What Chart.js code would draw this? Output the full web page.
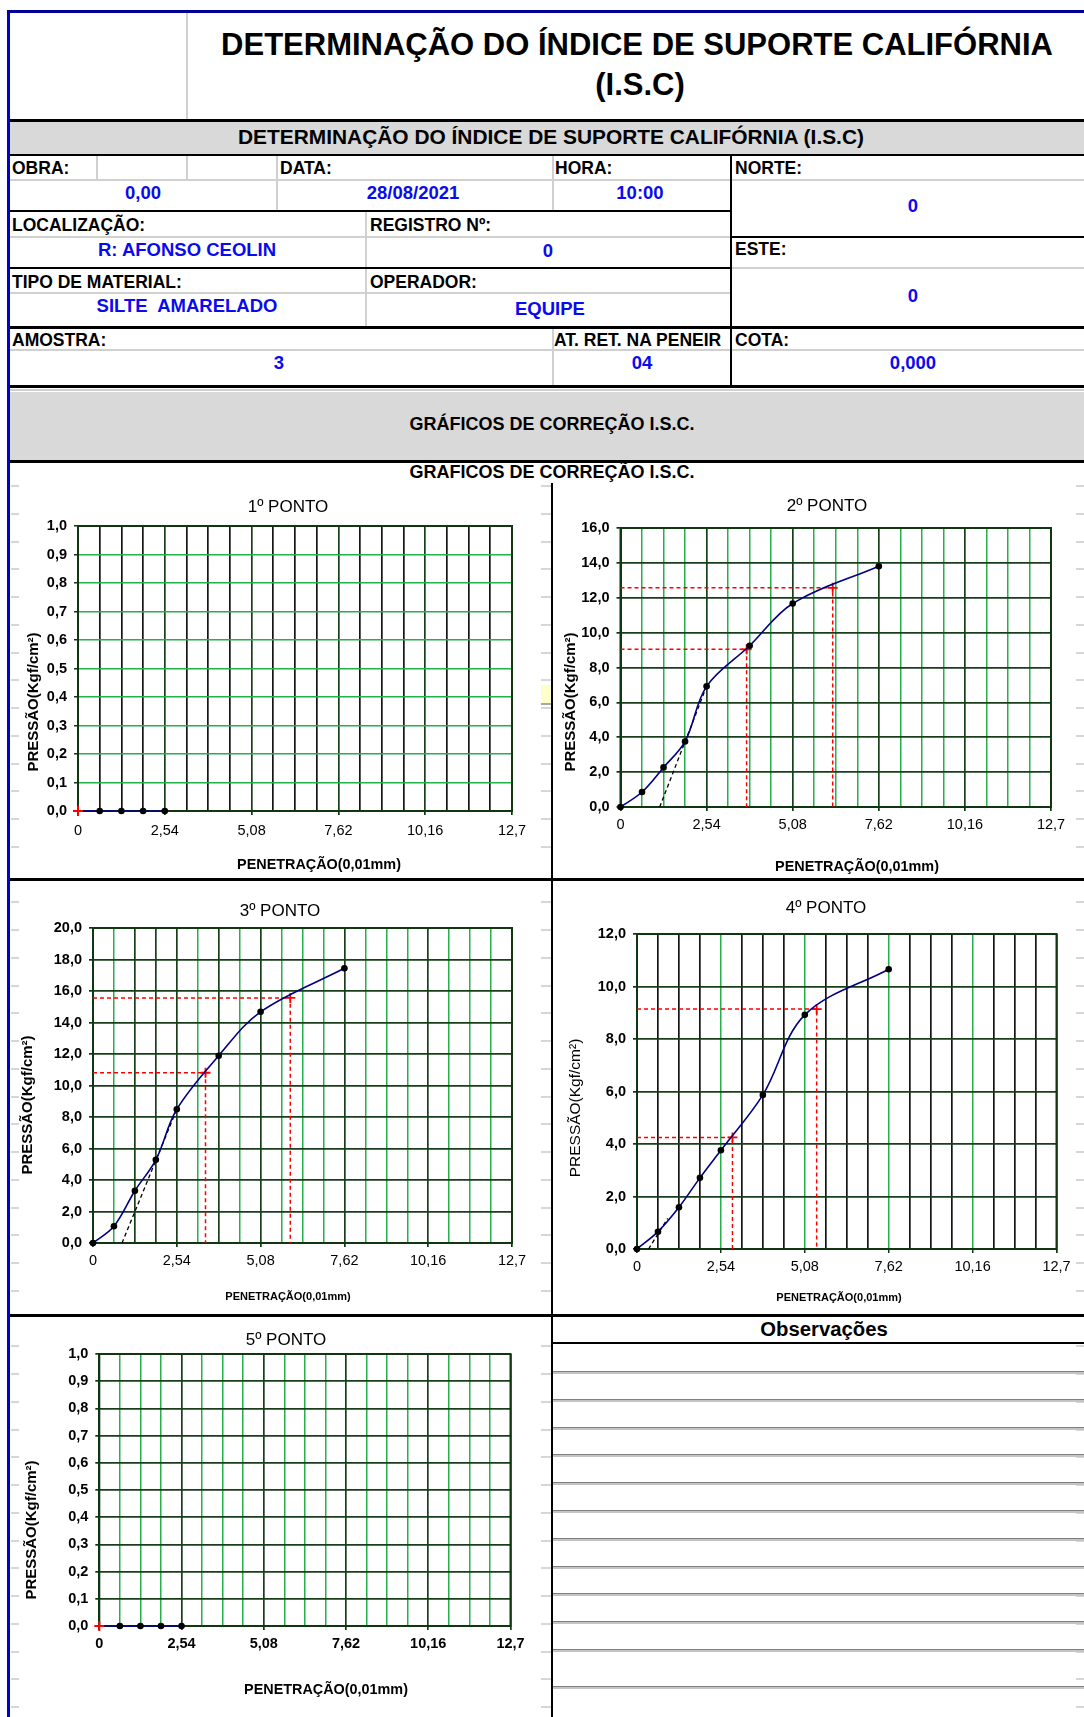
<!DOCTYPE html>
<html>
<head>
<meta charset="utf-8">
<script src="https://cdn.jsdelivr.net/npm/chart.js@4.4.0/dist/chart.umd.min.js"></script>
<style>
html, body { margin: 0; padding: 0; background: #fff; overflow: hidden; }
#pagina { position: relative; width: 1084px; height: 1717px; overflow: hidden;
  font-family: "Liberation Sans", Arial, sans-serif; color: #000; }
#pagina div { position: absolute; }
.txt { white-space: pre; }
</style>
</head>
<body>
<div id="pagina"></div>
<script>
const penetracao = [0, 0.635, 1.27, 1.905, 2.54, 3.81, 5.08, 7.62];
const penetracaoCurta = [0, 0.635, 1.27, 1.905, 2.54];
const pressao1 = [0, 0, 0, 0, 0];
const pressao2 = [0, 0.86, 2.27, 3.76, 6.92, 9.25, 11.67, 13.81];
const pressao3 = [0, 1.06, 3.32, 5.28, 8.49, 11.89, 14.68, 17.44];
const pressao4 = [0, 0.66, 1.59, 2.71, 3.76, 5.87, 8.92, 10.66];
const pressao5 = [0, 0, 0, 0, 0];

// tangente (reta tracejada preta)
const tangente2X = [1.156, 2.54], tangente2Y = [0, 6.92];
const tangente3X = [0.88, 2.54], tangente3Y = [0, 8.49];
const tangente4X = [0.35, 0.93], tangente4Y = [0, 1.17];

// pontos corrigidos (linhas vermelhas)
const correcao2X = [3.72, 6.26], correcao2Y = [9.04, 12.57];
const correcao3X = [3.41, 5.98], correcao3Y = [10.81, 15.56];
const correcao4X = [2.89, 5.44], correcao4Y = [4.25, 9.14];

// eixos
const xTickValues = [0, 2.54, 5.08, 7.62, 10.16, 12.7];
const xTickLabels = ['0', '2,54', '5,08', '7,62', '10,16', '12,7'];
const yTicksDecimo = [0, 0.1, 0.2, 0.3, 0.4, 0.5, 0.6, 0.7, 0.8, 0.9, 1.0];
const yTicks16 = [0, 2, 4, 6, 8, 10, 12, 14, 16];
const yTicks20 = [0, 2, 4, 6, 8, 10, 12, 14, 16, 18, 20];
const yTicks12 = [0, 2, 4, 6, 8, 10, 12];
const GRID_STEP = 0.635;

const FONTE = '"Liberation Sans", Arial, sans-serif';
const ESCURO = '#173f19', VERDE = '#25b04c', PRETO = '#151515', MOLDURA = '#0f3812';
const AZUL = '#0a0af0';

const pagina = document.getElementById('pagina');

function caixa(x, y, w, h, cor) {
  const d = document.createElement('div');
  d.style.cssText = `left:${x}px;top:${y}px;width:${w}px;height:${h}px;background:${cor}`;
  pagina.appendChild(d);
  return d;
}
function texto(str, x, y, tam, opts = {}) {
  const d = document.createElement('div');
  d.className = 'txt';
  d.textContent = str;
  const lh = tam * 1.2;
  let css = `top:${y - lh / 2}px;font-size:${tam}px;line-height:${lh}px;` +
    `font-weight:${opts.regular ? 'normal' : 'bold'};color:${opts.cor || '#000'};`;
  if (opts.centro) css += `left:${x - 600}px;width:1200px;text-align:center;`;
  else css += `left:${x}px;`;
  if (opts.largura) css += `width:${opts.largura}px;overflow:hidden;`;
  d.style.cssText = css;
  pagina.appendChild(d);
}

/* ---- cabeçalho ---- */
caixa(10, 122, 1074, 32, '#d9d9d9');
caixa(10, 392, 1074, 68, '#d9d9d9');
// linhas cinza claras
[[10, 179, 1074, 2], [10, 236, 721, 2], [732, 267, 352, 2], [10, 292, 721, 2],
 [10, 349, 1074, 2], [10, 389, 1074, 2],
 [96, 154, 2, 26], [186, 13, 2, 106], [186, 154, 2, 26], [276, 154, 2, 57],
 [552, 154, 2, 57], [552, 327, 2, 59], [365, 211, 2, 116]]
  .forEach(r => caixa(r[0], r[1], r[2], r[3], '#d0d0d0'));
// linhas pretas
[[10, 119, 1074, 3], [10, 154, 1074, 2], [10, 210, 721, 2], [10, 267, 721, 2],
 [731, 236, 353, 2], [10, 326, 1074, 3], [10, 385, 1074, 3], [10, 460, 1074, 3],
 [10, 878, 1074, 3], [10, 1314, 1074, 3], [730, 154, 2, 232], [551, 483, 2, 1234],
 [552, 1342, 532, 2]]
  .forEach(r => caixa(r[0], r[1], r[2], r[3], '#000'));
caixa(7, 10, 3, 1707, '#0000cc');
caixa(7, 10, 1077, 3, '#000099');

// marcas cinza das células
for (let y = 485; y < 1712; y += 27.75) {
  if (Math.abs(y - 879) < 6 || Math.abs(y - 1315) < 6) continue;
  caixa(11, Math.round(y), 8, 2, '#d6d6d6');
  caixa(541, Math.round(y), 10, 2, '#d6d6d6');
  caixa(1076, Math.round(y), 8, 2, '#d6d6d6');
}
caixa(541, 685, 10, 18, '#ffffcc');
caixa(541, 703, 10, 2, '#a8a8a8');

texto('DETERMINAÇÃO DO ÍNDICE DE SUPORTE CALIFÓRNIA', 637, 45, 31, { centro: true });
texto('(I.S.C)', 640, 85, 31, { centro: true });
texto('DETERMINAÇÃO DO ÍNDICE DE SUPORTE CALIFÓRNIA (I.S.C)', 551, 137, 20.9, { centro: true });

const rotulos = [
  ['OBRA:', 12, 168], ['DATA:', 280, 168], ['HORA:', 555, 168], ['NORTE:', 735, 168],
  ['LOCALIZAÇÃO:', 12, 225], ['REGISTRO Nº:', 370, 225], ['ESTE:', 735, 249],
  ['TIPO DE MATERIAL:', 12, 282], ['OPERADOR:', 370, 282],
  ['AMOSTRA:', 12, 340], ['COTA:', 735, 340]
];
rotulos.forEach(r => texto(r[0], r[1], r[2], 17.5));
texto('AT. RET. NA PENEIR', 554, 340, 17.5, { largura: 177 });

const valores = [
  ['0,00', 143, 193], ['28/08/2021', 413, 193], ['10:00', 640, 193], ['0', 913, 206],
  ['R: AFONSO CEOLIN', 187, 250], ['0', 548, 251], ['0', 913, 296],
  ['SILTE  AMARELADO', 187, 306], ['EQUIPE', 550, 309],
  ['3', 279, 363], ['04', 642, 363], ['0,000', 913, 363]
];
valores.forEach(v => texto(v[0], v[1], v[2], 18.5, { centro: true, cor: AZUL }));

texto('GRÁFICOS DE CORREÇÃO I.S.C.', 552, 425, 18, { centro: true });
texto('GRAFICOS DE CORREÇÃO I.S.C.', 552, 473, 18, { centro: true });

/* ---- observações ---- */
texto('Observações', 824, 1329, 20.3, { centro: true });
[1371, 1399, 1427, 1454, 1482, 1510, 1538, 1566, 1593, 1621, 1649, 1686].forEach(y => {
  caixa(553, y, 531, 1, '#808080');
  caixa(553, y + 1, 531, 2, '#c4c4c4');
});

/* ---- gráficos ---- */
const graficos = [
  { titulo: '1º PONTO', xs: penetracaoCurta, ys: pressao1, yTicks: yTicksDecimo, yMax: 1,
    cell: { l: 11, t: 463, r: 551, b: 878 }, plot: { L: 78, T: 526, R: 512, B: 811 },
    tituloPos: [288, 507], yTituloPos: [34, 702], xTituloPos: [319, 865], xTituloTam: 14.4,
    yTituloNegrito: true, xTickNegrito: false, xTickPad: 7,
    vMenor: PRETO, vMaior: ESCURO, hCor: VERDE, origemVermelha: true },
  { titulo: '2º PONTO', xs: penetracao, ys: pressao2, yTicks: yTicks16, yMax: 16,
    cell: { l: 554, t: 463, r: 1084, b: 878 }, plot: { L: 620.5, T: 528, R: 1051, B: 807 },
    tituloPos: [827, 506], yTituloPos: [571, 702], xTituloPos: [857, 867], xTituloTam: 14.4,
    yTituloNegrito: true, xTickNegrito: false, xTickPad: 5,
    vMenor: VERDE, vMaior: ESCURO, hCor: ESCURO,
    tanX: tangente2X, tanY: tangente2Y, corrX: correcao2X, corrY: correcao2Y },
  { titulo: '3º PONTO', xs: penetracao, ys: pressao3, yTicks: yTicks20, yMax: 20,
    cell: { l: 11, t: 882, r: 551, b: 1314 }, plot: { L: 93, T: 928, R: 512, B: 1243 },
    tituloPos: [280, 911], yTituloPos: [28, 1105], xTituloPos: [288, 1297], xTituloTam: 11,
    yTituloNegrito: true, xTickNegrito: false, xTickPad: 5,
    vMenor: VERDE, vMaior: ESCURO, hCor: ESCURO, vEscurosExtra: [1.27, 1.905, 3.81],
    tanX: tangente3X, tanY: tangente3Y, corrX: correcao3X, corrY: correcao3Y },
  { titulo: '4º PONTO', xs: penetracao, ys: pressao4, yTicks: yTicks12, yMax: 12,
    cell: { l: 554, t: 882, r: 1084, b: 1314 }, plot: { L: 637, T: 934, R: 1056.5, B: 1249 },
    tituloPos: [826, 908], yTituloPos: [576, 1108], xTituloPos: [839, 1298], xTituloTam: 11,
    yTituloNegrito: false, xTickNegrito: false, xTickPad: 5,
    vMenor: PRETO, vMaior: VERDE, hCor: ESCURO,
    tanX: tangente4X, tanY: tangente4Y, corrX: correcao4X, corrY: correcao4Y },
  { titulo: '5º PONTO', xs: penetracaoCurta, ys: pressao5, yTicks: yTicksDecimo, yMax: 1,
    cell: { l: 11, t: 1318, r: 551, b: 1717 }, plot: { L: 99.3, T: 1354, R: 510.5, B: 1626 },
    tituloPos: [286, 1340], yTituloPos: [32, 1530], xTituloPos: [326, 1690], xTituloTam: 14.4,
    yTituloNegrito: true, xTickNegrito: true, xTickPad: 5,
    vMenor: VERDE, vMaior: ESCURO, hCor: ESCURO, origemVermelha: true }
];

const gridValues = [];
for (let i = 0; i <= 20; i++) gridValues.push(Math.round(i * GRID_STEP * 1000) / 1000);

const perto = (a, b) => Math.abs(a - b) < 1e-6;
const pares = (xs, ys) => xs.map((x, i) => ({ x, y: ys[i] }));

// moldura do gráfico
const molduraPlugin = {
  id: 'moldura',
  beforeDatasetsDraw(chart) {
    const a = chart.chartArea, c = chart.ctx;
    c.save();
    c.strokeStyle = MOLDURA;
    c.lineWidth = 2;
    c.strokeRect(a.left, a.top, a.right - a.left, a.bottom - a.top);
    c.restore();
  }
};

// títulos (posições da página)
const textosPlugin = {
  id: 'textos',
  afterDraw(chart, args, o) {
    const c = chart.ctx, cell = o.cell;
    c.save();
    c.fillStyle = '#000';
    c.textAlign = 'center';
    c.textBaseline = 'middle';
    c.font = `17px ${FONTE}`;
    c.fillText(o.titulo, o.tituloPos[0] - cell.l, o.tituloPos[1] - cell.t);
    c.font = `bold ${o.xTituloTam}px ${FONTE}`;
    c.fillText('PENETRAÇÃO(0,01mm)', o.xTituloPos[0] - cell.l, o.xTituloPos[1] - cell.t);
    c.translate(o.yTituloPos[0] - cell.l, o.yTituloPos[1] - cell.t);
    c.rotate(-Math.PI / 2);
    c.font = `${o.yTituloNegrito ? 'bold 15px' : '15.5px'} ${FONTE}`;
    c.fillText('PRESSÃO(Kgf/cm²)', 0, 0);
    c.restore();
  }
};

function conjuntos(g) {
  const ds = [];
  if (g.origemVermelha) {
    ds.push({ data: [{ x: 0, y: 0 }], showLine: false, pointStyle: 'cross', pointRadius: 5,
      pointBorderColor: '#ff0000', pointBorderWidth: 2, clip: false });
  }
  ds.push({
    data: pares(g.xs, g.ys), showLine: true, borderColor: '#000080', borderWidth: 1.6,
    tension: 0.35, clip: false,
    pointRadius: ctx => (g.origemVermelha && ctx.dataIndex === 0) ? 0 : 3.3,
    pointBackgroundColor: '#000', pointBorderColor: '#000', pointBorderWidth: 0
  });
  if (g.tanX) {
    ds.push({ data: pares(g.tanX, g.tanY), showLine: true, borderColor: '#000',
      borderWidth: 1.3, borderDash: [4, 3], pointRadius: 0, tension: 0 });
  }
  if (g.corrX) {
    g.corrX.forEach((cx, i) => {
      const cy = g.corrY[i];
      ds.push({
        data: [{ x: 0, y: cy }, { x: cx, y: cy }, { x: cx, y: 0 }],
        showLine: true, borderColor: '#ff0000', borderWidth: 1.5, borderDash: [4, 3],
        tension: 0, pointStyle: 'cross', pointRadius: [0, 5, 0],
        pointBorderColor: '#ff0000', pointBorderWidth: 1.8
      });
    });
  }
  return ds;
}

graficos.forEach(g => {
  const w = g.cell.r - g.cell.l, h = g.cell.b - g.cell.t;
  const box = document.createElement('div');
  box.style.cssText = `left:${g.cell.l}px;top:${g.cell.t}px;width:${w}px;height:${h}px;`;
  const canvas = document.createElement('canvas');
  canvas.width = w;
  canvas.height = h;
  canvas.style.cssText = `width:${w}px;height:${h}px;display:block`;
  box.appendChild(canvas);
  pagina.appendChild(box);

  const YW = 40, XH = 30;
  const corVertical = v => {
    if (perto(v, 0) || perto(v, 12.7)) return MOLDURA;
    if (g.vEscurosExtra && g.vEscurosExtra.some(e => perto(e, v))) return ESCURO;
    return xTickValues.some(t => perto(t, v)) ? g.vMaior : g.vMenor;
  };

  new Chart(canvas.getContext('2d'), {
    type: 'scatter',
    data: { datasets: conjuntos(g) },
    options: {
      responsive: false,
      animation: false,
      events: [],
      layout: {
        padding: {
          left: g.plot.L - g.cell.l - YW,
          top: g.plot.T - g.cell.t,
          right: g.cell.r - g.plot.R,
          bottom: g.cell.b - g.plot.B - XH
        }
      },
      plugins: {
        legend: { display: false },
        tooltip: { enabled: false },
        textos: g
      },
      scales: {
        x: {
          type: 'linear', min: 0, max: 12.7,
          afterBuildTicks: s => { s.ticks = gridValues.map(v => ({ value: v })); },
          afterFit: s => { s.height = XH; },
          ticks: {
            autoSkip: false, maxRotation: 0, padding: g.xTickPad, color: '#000',
            font: { size: 14.5, weight: g.xTickNegrito ? 'bold' : 'normal' },
            callback: v => {
              const k = xTickValues.findIndex(t => perto(t, v));
              return k >= 0 ? xTickLabels[k] : '';
            }
          },
          grid: {
            color: ctx => corVertical(ctx.tick.value),
            lineWidth: ctx => corVertical(ctx.tick.value) === VERDE ? 1.5 : 1.7,
            tickLength: 4,
            tickColor: ctx => xTickValues.some(t => perto(t, ctx.tick.value)) ? MOLDURA : 'rgba(0,0,0,0)'
          },
          border: { display: true, color: MOLDURA, width: 2 }
        },
        y: {
          type: 'linear', min: 0, max: g.yMax,
          afterBuildTicks: s => { s.ticks = g.yTicks.map(v => ({ value: v })); },
          afterFit: s => { s.width = YW; },
          ticks: {
            autoSkip: false, padding: 7, color: '#000',
            font: { size: 14.5, weight: 'bold' },
            callback: v => v.toFixed(1).replace('.', ',')
          },
          grid: {
            color: ctx => (ctx.tick.value === 0 || perto(ctx.tick.value, g.yMax)) ? MOLDURA : g.hCor,
            lineWidth: ctx => g.hCor === VERDE ? 1.5 : 1.7,
            tickLength: 4,
            tickColor: MOLDURA
          },
          border: { display: true, color: MOLDURA, width: 2 }
        }
      }
    },
    plugins: [molduraPlugin, textosPlugin]
  });
});
</script>
</body>
</html>
